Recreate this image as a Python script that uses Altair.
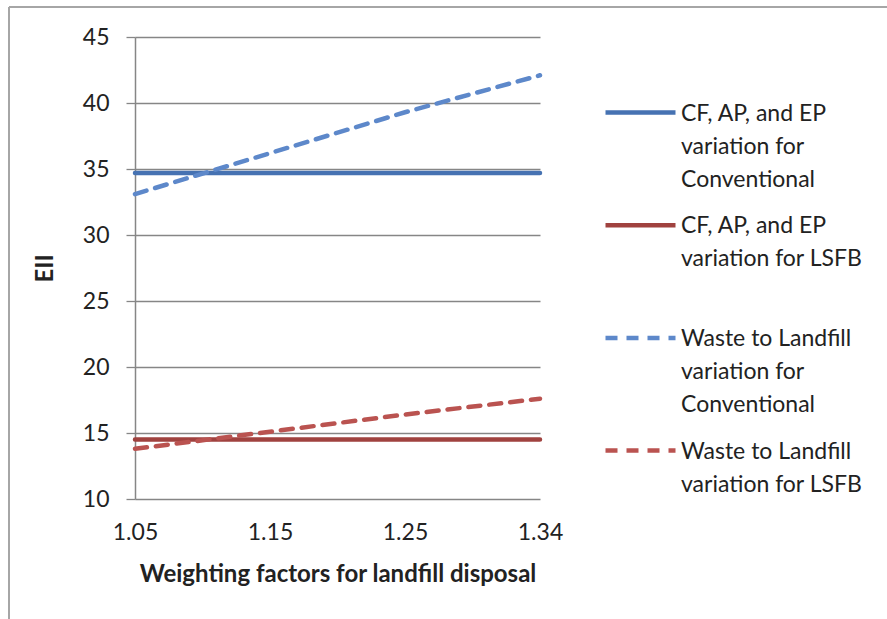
import altair as alt
import pandas as pd

# Weighting factors for landfill disposal (categories on the x axis)
weights = ["1.05", "1.15", "1.25", "1.34"]

# EII for each scenario
cf_conventional = [34.7, 34.7, 34.7, 34.7]
cf_lsfb = [14.5, 14.5, 14.5, 14.5]
waste_conventional = [33.1, 36.2, 39.3, 42.1]
waste_lsfb = [13.8, 15.1, 16.4, 17.6]

# Legend texts, "|" marks a line break
series_names = [
    "CF, AP, and EP|variation for|Conventional",
    "CF, AP, and EP|variation for LSFB",
    "Waste to Landfill|variation for|Conventional",
    "Waste to Landfill|variation for LSFB",
]
series_values = [cf_conventional, cf_lsfb, waste_conventional, waste_lsfb]
series_colors = ["#4672B2", "#A0423F", "#5D88CA", "#BA5350"]
series_dashes = [[1, 0], [1, 0], [12, 9], [12, 9]]

FONT = "Lato"
GRID = "#868686"
TEXT = "#222222"
LABEL_DY = -10  # lifts multi-line legend labels so the first line sits on the symbol
LEGEND_X = 468
LEGEND_TOP = 38
LEGEND_STEP = 112.7

x_enc = alt.X(
    "weight:O",
    sort=weights,
    scale=alt.Scale(type="point", padding=0),
    axis=alt.Axis(
        title="Weighting factors for landfill disposal",
        labelAngle=0,
        ticks=False,
        domain=False,
        labelPadding=32,
        titlePadding=18,
    ),
)
y_enc = alt.Y(
    "EII:Q",
    scale=alt.Scale(domain=[10, 45], nice=False, zero=False),
    axis=alt.Axis(
        title="EII",
        values=[10, 15, 20, 25, 30, 35, 40, 45],
        tickSize=9,
        labelPadding=17,
        labelOffset=-LABEL_DY,
        titlePadding=25,
        grid=True,
    ),
)

# One layer per series, each with its own legend entry
series_layers = []
for i, (name, vals, col, dash) in enumerate(
    zip(series_names, series_values, series_colors, series_dashes)
):
    sdf = pd.DataFrame({"weight": weights, "EII": vals, "series": name})
    layer = alt.Chart(sdf).mark_line(
        strokeWidth=4.5, strokeCap="round", strokeDash=dash
    ).encode(
        x=x_enc,
        y=y_enc,
        color=alt.Color(
            "series:N",
            scale=alt.Scale(domain=[name], range=[col]),
            legend=alt.Legend(
                title=None,
                orient="none",
                legendX=LEGEND_X,
                legendY=LEGEND_TOP + i * LEGEND_STEP,
                symbolType="stroke",
                symbolSize=4900,
                symbolStrokeWidth=4.5,
                symbolDash=dash,
                labelOffset=3,
                labelExpr="split(datum.label, '|')",
                labelBaseline="top",
                labelFontSize=23,
                labelFont=FONT,
                labelColor=TEXT,
                labelLimit=300,
            ),
        ),
    )
    series_layers.append(layer)

frame_df = pd.DataFrame({"weight": weights})

# Outer frame of the chart area
frame_left = alt.Chart(frame_df).mark_rule(color="#A6A6A6", strokeWidth=2).encode(
    x=alt.value(-126), y=alt.value(-30), y2=alt.value(600)
)
frame_top = alt.Chart(frame_df).mark_rule(color="#A6A6A6", strokeWidth=2).encode(
    x=alt.value(-126), x2=alt.value(760), y=alt.value(-30)
)

chart = (
    alt.layer(frame_left, frame_top, *series_layers)
    .resolve_scale(color="independent")
    .resolve_legend(color="independent")
    .properties(
        width=405,
        height=462,
        autosize=alt.AutoSizeParams(type="none"),
        padding={"left": 135, "top": 37, "right": 347, "bottom": 120},
        background="white",
    )
    .configure(style={"guide-label": {"lineHeight": 33, "dy": LABEL_DY}})
    .configure_view(stroke=None)
    .configure_axis(
        labelFont=FONT,
        labelFontSize=23,
        labelColor=TEXT,
        titleFont=FONT,
        titleFontSize=24,
        titleFontWeight="bold",
        titleColor=TEXT,
        gridColor=GRID,
        gridWidth=1.3,
        domainColor=GRID,
        domainWidth=1.5,
        tickColor=GRID,
        tickWidth=1.3,
    )
)

chart.save("out.html", embed_options={"renderer": "svg", "actions": False})
